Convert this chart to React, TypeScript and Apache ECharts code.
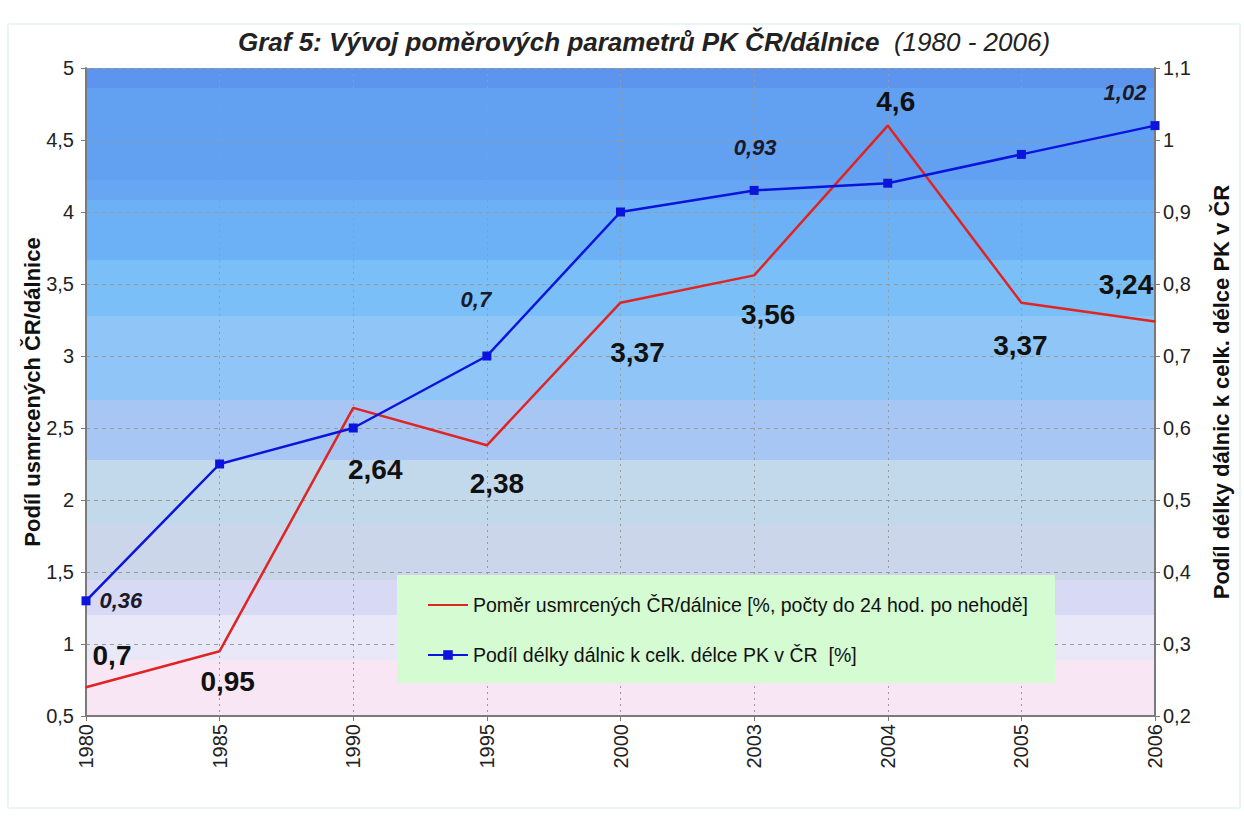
import React, { useEffect, useRef } from "react";
import * as echarts from "echarts";

const years = ["1980", "1985", "1990", "1995", "2000", "2003", "2004", "2005", "2006"];
const deathRatio = [0.7, 0.95, 2.64, 2.38, 3.37, 3.56, 4.6, 3.37, 3.24];
const motorwayShare = [0.36, 0.55, 0.6, 0.7, 0.9, 0.93, 0.94, 0.98, 1.02];
const shownShareLabels = [true, false, false, true, false, true, false, false, true];

const redSeriesName = "Poměr usmrcených ČR/dálnice [%, počty do 24 hod. po nehodě]";
const blueSeriesName = "Podíl délky dálnic k celk. délce PK v ČR  [%]";

// label placement (style only)
const redLabelPos: [string, number[]][] = [
  ["top", [26, -12]],
  ["bottom", [8, 11]],
  ["bottom", [22, 42]],
  ["bottom", [10, 19]],
  ["bottom", [17, 30]],
  ["bottom", [14, 20]],
  ["top", [8, -5]],
  ["bottom", [-1, 23]],
  ["top", [-29, -17]],
];
const blueLabelPos: [string, number[]][] = [
  ["right", [4, 0]],
  ["top", [0, 0]],
  ["top", [0, 0]],
  ["top", [-11, -36]],
  ["top", [0, 0]],
  ["top", [1, -22]],
  ["top", [0, 0]],
  ["top", [0, 0]],
  ["top", [-30, -13]],
];

const comma = (v: number) => String(v).replace(".", ",");
const FONT = "'Liberation Sans', Arial, sans-serif";

export default function App() {
  const ref = useRef<HTMLDivElement>(null);
  useEffect(() => {
    document.body.style.margin = "0";
    const chart = echarts.init(ref.current!, null, { renderer: "svg" });
    const bg = new echarts.graphic.LinearGradient(0, 0, 0, 1, [
      { offset: 0, color: "#5d95ee" },
      { offset: 0.031, color: "#5d95ee" },
      { offset: 0.031, color: "#62a1f2" },
      { offset: 0.173, color: "#62a1f2" },
      { offset: 0.173, color: "#68a6f3" },
      { offset: 0.204, color: "#68a6f3" },
      { offset: 0.204, color: "#6cb0f5" },
      { offset: 0.296, color: "#6cb0f5" },
      { offset: 0.296, color: "#7abff7" },
      { offset: 0.383, color: "#7abff7" },
      { offset: 0.383, color: "#8fc6f7" },
      { offset: 0.512, color: "#8fc6f7" },
      { offset: 0.512, color: "#a8c6f4" },
      { offset: 0.605, color: "#a8c6f4" },
      { offset: 0.605, color: "#c2d9ec" },
      { offset: 0.705, color: "#c2d9ec" },
      { offset: 0.705, color: "#ccd6ea" },
      { offset: 0.79, color: "#ccd6ea" },
      { offset: 0.79, color: "#d8d9f5" },
      { offset: 0.844, color: "#d8d9f5" },
      { offset: 0.844, color: "#e9e8f8" },
      { offset: 0.914, color: "#e9e8f8" },
      { offset: 0.914, color: "#f8e6f4" },
      { offset: 1, color: "#f8e6f4" },
    ]);
    const axisLabelStyle = { color: "#222", fontSize: 20, fontFamily: FONT };
    const axisNameStyle = { fontSize: 22, fontWeight: "bold", color: "#111", fontFamily: FONT };
    const option: any = {
      animation: false,
      backgroundColor: "#ffffff",
      textStyle: { fontFamily: FONT },
      title: {
        text: "{b|Graf 5: Vývoj poměrových parametrů PK ČR/dálnice}{n|  (1980 - 2006)}",
        left: 639,
        textAlign: "center",
        top: 24,
        textStyle: {
          rich: {
            b: { fontSize: 26, fontWeight: "bold", fontStyle: "italic", color: "#222", fontFamily: FONT },
            n: { fontSize: 26, fontWeight: "normal", fontStyle: "italic", color: "#222", fontFamily: FONT },
          },
        },
      },
      graphic: [
        {
          type: "rect",
          shape: { x: 8, y: 24, width: 1232, height: 784 },
          style: { fill: "none", stroke: "#e4f2f0", lineWidth: 1.5 },
          silent: true,
          z: -10,
        },
      ],
      grid: {
        left: 86,
        right: 89,
        top: 68,
        bottom: 103,
        show: true,
        backgroundColor: bg,
        borderWidth: 0,
      },
      legend: {
        orient: "vertical",
        left: 397,
        top: 575,
        padding: [20, 27, 18, 30],
        itemGap: 30,
        itemWidth: 40,
        itemHeight: 12,
        backgroundColor: "#d5fbd2",
        textStyle: { fontSize: 19.5, color: "#111", fontFamily: FONT },
        data: [{ name: redSeriesName, itemStyle: { opacity: 0 } }, { name: blueSeriesName }],
      },
      xAxis: {
        type: "category",
        data: years,
        boundaryGap: false,
        axisLine: { lineStyle: { color: "#7a7a7a", width: 2 } },
        axisTick: { show: true, length: 5, lineStyle: { color: "#7a7a7a" } },
        axisLabel: { ...axisLabelStyle, rotate: 90, margin: 8 },
        splitLine: { show: true, lineStyle: { color: "#9a9a9a", type: [2, 4], width: 1 } },
      },
      yAxis: [
        {
          type: "value",
          min: 0.5,
          max: 5,
          interval: 0.5,
          name: "Podíl usmrcených ČR/dálnice",
          nameLocation: "middle",
          nameGap: 43,
          nameMoveOverlap: false,
          nameTextStyle: axisNameStyle,
          axisLine: { show: true, lineStyle: { color: "#7a7a7a", width: 2 } },
          axisTick: { show: true, length: 5, lineStyle: { color: "#7a7a7a" } },
          axisLabel: { ...axisLabelStyle, margin: 12, formatter: (v: number) => comma(v) },
          splitLine: { show: true, lineStyle: { color: "#9a9a9a", type: [4, 4], width: 1 } },
        },
        {
          type: "value",
          min: 0.2,
          max: 1.1,
          interval: 0.1,
          name: "Podíl délky dálnic k celk. délce PK v ČR",
          nameLocation: "middle",
          nameGap: 55,
          nameMoveOverlap: false,
          nameRotate: 90,
          nameTextStyle: axisNameStyle,
          axisLine: { show: true, lineStyle: { color: "#7a7a7a", width: 2 } },
          axisTick: { show: true, length: 5, lineStyle: { color: "#7a7a7a" } },
          axisLabel: {
            ...axisLabelStyle,
            margin: 8,
            formatter: (v: number) => comma(Math.round(v * 10) / 10),
          },
          splitLine: { show: false },
        },
      ],
      series: [
        {
          name: redSeriesName,
          type: "line",
          yAxisIndex: 0,
          symbol: "circle",
          symbolSize: 1,
          lineStyle: { color: "#e02424", width: 2.5 },
          itemStyle: { color: "#e02424" },
          z: 3,
          data: deathRatio.map((v, i) => ({
            value: v,
            label: {
              show: true,
              position: redLabelPos[i][0],
              offset: redLabelPos[i][1],
              formatter: comma(v),
              fontSize: 28,
              fontWeight: "bold",
              color: "#111",
              fontFamily: FONT,
            },
          })),
        },
        {
          name: blueSeriesName,
          type: "line",
          yAxisIndex: 1,
          symbol: "rect",
          symbolSize: 9,
          lineStyle: { color: "#0a14dc", width: 2.5 },
          itemStyle: { color: "#0a14dc" },
          z: 4,
          data: motorwayShare.map((v, i) => ({
            value: v,
            label: {
              show: shownShareLabels[i],
              position: blueLabelPos[i][0],
              offset: blueLabelPos[i][1],
              formatter: comma(v),
              fontSize: 22,
              fontWeight: "bold",
              fontStyle: "italic",
              color: "#1a1a2a",
              fontFamily: FONT,
            },
          })),
        },
      ],
    };
    chart.setOption(option);
    return () => chart.dispose();
  }, []);
  return <div ref={ref} style={{ width: 1244, height: 819 }} />;
}
